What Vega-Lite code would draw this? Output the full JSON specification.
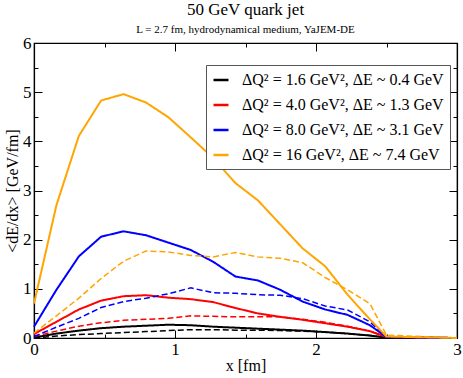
{
  "$schema": "https://vega.github.io/schema/vega-lite/v6.json",
  "width": 423,
  "height": 295,
  "autosize": {"type": "none"},
  "padding": {"left": 34, "top": 43, "right": 6, "bottom": 40},
  "background": "white",
  "title": {
    "text": "50 GeV quark jet",
    "subtitle": "L = 2.7 fm, hydrodynamical medium, YaJEM-DE",
    "font": "Liberation Serif, Times New Roman, serif",
    "fontSize": 17,
    "fontWeight": "normal",
    "subtitleFont": "Liberation Serif, Times New Roman, serif",
    "subtitleFontSize": 11,
    "color": "black",
    "subtitleColor": "black",
    "anchor": "middle",
    "offset": -2,
    "subtitlePadding": 5
  },
  "config": {
    "view": {"stroke": "black", "strokeWidth": 1.2},
    "axis": {
      "domainColor": "black",
      "domainWidth": 1.2,
      "tickColor": "black",
      "tickWidth": 1,
      "labelColor": "black",
      "titleColor": "black",
      "labelFont": "Liberation Serif, Times New Roman, serif",
      "labelFontSize": 17,
      "labelFlush": false,
      "titleFont": "Liberation Serif, Times New Roman, serif",
      "titleFontSize": 16,
      "titleFontWeight": "normal",
      "grid": false
    }
  },
  "data": {
    "values": [
      {"x": 0, "y": 0.01, "s": "a", "t": "solid"},
      {"x": 0.159, "y": 0.09, "s": "a", "t": "solid"},
      {"x": 0.318, "y": 0.15, "s": "a", "t": "solid"},
      {"x": 0.476, "y": 0.2, "s": "a", "t": "solid"},
      {"x": 0.635, "y": 0.23, "s": "a", "t": "solid"},
      {"x": 0.794, "y": 0.25, "s": "a", "t": "solid"},
      {"x": 0.953, "y": 0.27, "s": "a", "t": "solid"},
      {"x": 1.112, "y": 0.26, "s": "a", "t": "solid"},
      {"x": 1.271, "y": 0.23, "s": "a", "t": "solid"},
      {"x": 1.429, "y": 0.21, "s": "a", "t": "solid"},
      {"x": 1.588, "y": 0.19, "s": "a", "t": "solid"},
      {"x": 1.747, "y": 0.17, "s": "a", "t": "solid"},
      {"x": 1.906, "y": 0.15, "s": "a", "t": "solid"},
      {"x": 2.065, "y": 0.12, "s": "a", "t": "solid"},
      {"x": 2.224, "y": 0.09, "s": "a", "t": "solid"},
      {"x": 2.382, "y": 0.05, "s": "a", "t": "solid"},
      {"x": 2.5, "y": 0.01, "s": "a", "t": "solid"},
      {"x": 3.0, "y": 0, "s": "a", "t": "solid"},

      {"x": 0, "y": 0.0, "s": "a", "t": "dashed"},
      {"x": 0.159, "y": 0.04, "s": "a", "t": "dashed"},
      {"x": 0.318, "y": 0.07, "s": "a", "t": "dashed"},
      {"x": 0.476, "y": 0.09, "s": "a", "t": "dashed"},
      {"x": 0.635, "y": 0.11, "s": "a", "t": "dashed"},
      {"x": 0.794, "y": 0.13, "s": "a", "t": "dashed"},
      {"x": 0.953, "y": 0.15, "s": "a", "t": "dashed"},
      {"x": 1.112, "y": 0.17, "s": "a", "t": "dashed"},
      {"x": 1.271, "y": 0.17, "s": "a", "t": "dashed"},
      {"x": 1.429, "y": 0.16, "s": "a", "t": "dashed"},
      {"x": 1.588, "y": 0.16, "s": "a", "t": "dashed"},
      {"x": 1.747, "y": 0.15, "s": "a", "t": "dashed"},
      {"x": 1.906, "y": 0.14, "s": "a", "t": "dashed"},
      {"x": 2.065, "y": 0.12, "s": "a", "t": "dashed"},
      {"x": 2.224, "y": 0.09, "s": "a", "t": "dashed"},
      {"x": 2.382, "y": 0.05, "s": "a", "t": "dashed"},
      {"x": 2.5, "y": 0.01, "s": "a", "t": "dashed"},
      {"x": 3.0, "y": 0, "s": "a", "t": "dashed"},

      {"x": 0, "y": 0.08, "s": "b", "t": "solid"},
      {"x": 0.159, "y": 0.33, "s": "b", "t": "solid"},
      {"x": 0.318, "y": 0.58, "s": "b", "t": "solid"},
      {"x": 0.476, "y": 0.76, "s": "b", "t": "solid"},
      {"x": 0.635, "y": 0.85, "s": "b", "t": "solid"},
      {"x": 0.794, "y": 0.87, "s": "b", "t": "solid"},
      {"x": 0.953, "y": 0.82, "s": "b", "t": "solid"},
      {"x": 1.112, "y": 0.79, "s": "b", "t": "solid"},
      {"x": 1.271, "y": 0.73, "s": "b", "t": "solid"},
      {"x": 1.429, "y": 0.61, "s": "b", "t": "solid"},
      {"x": 1.588, "y": 0.5, "s": "b", "t": "solid"},
      {"x": 1.747, "y": 0.43, "s": "b", "t": "solid"},
      {"x": 1.906, "y": 0.37, "s": "b", "t": "solid"},
      {"x": 2.065, "y": 0.3, "s": "b", "t": "solid"},
      {"x": 2.224, "y": 0.23, "s": "b", "t": "solid"},
      {"x": 2.382, "y": 0.14, "s": "b", "t": "solid"},
      {"x": 2.5, "y": 0.02, "s": "b", "t": "solid"},
      {"x": 3.0, "y": 0, "s": "b", "t": "solid"},

      {"x": 0, "y": 0.03, "s": "b", "t": "dashed"},
      {"x": 0.159, "y": 0.14, "s": "b", "t": "dashed"},
      {"x": 0.318, "y": 0.24, "s": "b", "t": "dashed"},
      {"x": 0.476, "y": 0.31, "s": "b", "t": "dashed"},
      {"x": 0.635, "y": 0.36, "s": "b", "t": "dashed"},
      {"x": 0.794, "y": 0.38, "s": "b", "t": "dashed"},
      {"x": 0.953, "y": 0.4, "s": "b", "t": "dashed"},
      {"x": 1.112, "y": 0.45, "s": "b", "t": "dashed"},
      {"x": 1.271, "y": 0.44, "s": "b", "t": "dashed"},
      {"x": 1.429, "y": 0.43, "s": "b", "t": "dashed"},
      {"x": 1.588, "y": 0.43, "s": "b", "t": "dashed"},
      {"x": 1.747, "y": 0.43, "s": "b", "t": "dashed"},
      {"x": 1.906, "y": 0.38, "s": "b", "t": "dashed"},
      {"x": 2.065, "y": 0.32, "s": "b", "t": "dashed"},
      {"x": 2.224, "y": 0.24, "s": "b", "t": "dashed"},
      {"x": 2.382, "y": 0.14, "s": "b", "t": "dashed"},
      {"x": 2.5, "y": 0.02, "s": "b", "t": "dashed"},
      {"x": 3.0, "y": 0, "s": "b", "t": "dashed"},

      {"x": 0, "y": 0.23, "s": "c", "t": "solid"},
      {"x": 0.159, "y": 0.98, "s": "c", "t": "solid"},
      {"x": 0.318, "y": 1.66, "s": "c", "t": "solid"},
      {"x": 0.476, "y": 2.06, "s": "c", "t": "solid"},
      {"x": 0.635, "y": 2.17, "s": "c", "t": "solid"},
      {"x": 0.794, "y": 2.09, "s": "c", "t": "solid"},
      {"x": 0.953, "y": 1.94, "s": "c", "t": "solid"},
      {"x": 1.112, "y": 1.79, "s": "c", "t": "solid"},
      {"x": 1.271, "y": 1.55, "s": "c", "t": "solid"},
      {"x": 1.429, "y": 1.25, "s": "c", "t": "solid"},
      {"x": 1.588, "y": 1.17, "s": "c", "t": "solid"},
      {"x": 1.747, "y": 0.98, "s": "c", "t": "solid"},
      {"x": 1.906, "y": 0.74, "s": "c", "t": "solid"},
      {"x": 2.065, "y": 0.58, "s": "c", "t": "solid"},
      {"x": 2.224, "y": 0.47, "s": "c", "t": "solid"},
      {"x": 2.382, "y": 0.26, "s": "c", "t": "solid"},
      {"x": 2.5, "y": 0.02, "s": "c", "t": "solid"},
      {"x": 3.0, "y": 0, "s": "c", "t": "solid"},

      {"x": 0, "y": 0.03, "s": "c", "t": "dashed"},
      {"x": 0.159, "y": 0.22, "s": "c", "t": "dashed"},
      {"x": 0.318, "y": 0.4, "s": "c", "t": "dashed"},
      {"x": 0.476, "y": 0.62, "s": "c", "t": "dashed"},
      {"x": 0.635, "y": 0.74, "s": "c", "t": "dashed"},
      {"x": 0.794, "y": 0.81, "s": "c", "t": "dashed"},
      {"x": 0.953, "y": 0.9, "s": "c", "t": "dashed"},
      {"x": 1.112, "y": 1.02, "s": "c", "t": "dashed"},
      {"x": 1.271, "y": 0.92, "s": "c", "t": "dashed"},
      {"x": 1.429, "y": 0.91, "s": "c", "t": "dashed"},
      {"x": 1.588, "y": 0.88, "s": "c", "t": "dashed"},
      {"x": 1.747, "y": 0.87, "s": "c", "t": "dashed"},
      {"x": 1.906, "y": 0.8, "s": "c", "t": "dashed"},
      {"x": 2.065, "y": 0.65, "s": "c", "t": "dashed"},
      {"x": 2.224, "y": 0.57, "s": "c", "t": "dashed"},
      {"x": 2.382, "y": 0.33, "s": "c", "t": "dashed"},
      {"x": 2.5, "y": 0.02, "s": "c", "t": "dashed"},
      {"x": 3.0, "y": 0, "s": "c", "t": "dashed"},

      {"x": 0, "y": 0.7, "s": "d", "t": "solid"},
      {"x": 0.159, "y": 2.7, "s": "d", "t": "solid"},
      {"x": 0.318, "y": 4.11, "s": "d", "t": "solid"},
      {"x": 0.476, "y": 4.83, "s": "d", "t": "solid"},
      {"x": 0.635, "y": 4.96, "s": "d", "t": "solid"},
      {"x": 0.794, "y": 4.79, "s": "d", "t": "solid"},
      {"x": 0.953, "y": 4.49, "s": "d", "t": "solid"},
      {"x": 1.112, "y": 4.08, "s": "d", "t": "solid"},
      {"x": 1.271, "y": 3.66, "s": "d", "t": "solid"},
      {"x": 1.429, "y": 3.15, "s": "d", "t": "solid"},
      {"x": 1.588, "y": 2.8, "s": "d", "t": "solid"},
      {"x": 1.747, "y": 2.31, "s": "d", "t": "solid"},
      {"x": 1.906, "y": 1.82, "s": "d", "t": "solid"},
      {"x": 2.065, "y": 1.46, "s": "d", "t": "solid"},
      {"x": 2.224, "y": 0.88, "s": "d", "t": "solid"},
      {"x": 2.382, "y": 0.38, "s": "d", "t": "solid"},
      {"x": 2.5, "y": 0.03, "s": "d", "t": "solid"},
      {"x": 3.0, "y": 0, "s": "d", "t": "solid"},

      {"x": 0, "y": 0.1, "s": "d", "t": "dashed"},
      {"x": 0.159, "y": 0.45, "s": "d", "t": "dashed"},
      {"x": 0.318, "y": 0.81, "s": "d", "t": "dashed"},
      {"x": 0.476, "y": 1.21, "s": "d", "t": "dashed"},
      {"x": 0.635, "y": 1.56, "s": "d", "t": "dashed"},
      {"x": 0.794, "y": 1.77, "s": "d", "t": "dashed"},
      {"x": 0.953, "y": 1.75, "s": "d", "t": "dashed"},
      {"x": 1.112, "y": 1.68, "s": "d", "t": "dashed"},
      {"x": 1.271, "y": 1.65, "s": "d", "t": "dashed"},
      {"x": 1.429, "y": 1.74, "s": "d", "t": "dashed"},
      {"x": 1.588, "y": 1.65, "s": "d", "t": "dashed"},
      {"x": 1.747, "y": 1.62, "s": "d", "t": "dashed"},
      {"x": 1.906, "y": 1.53, "s": "d", "t": "dashed"},
      {"x": 2.065, "y": 1.23, "s": "d", "t": "dashed"},
      {"x": 2.224, "y": 0.98, "s": "d", "t": "dashed"},
      {"x": 2.382, "y": 0.7, "s": "d", "t": "dashed"},
      {"x": 2.5, "y": 0.06, "s": "d", "t": "dashed"},
      {"x": 3.0, "y": 0, "s": "d", "t": "dashed"}
    ]
  },
  "layer": [
    {
      "mark": {"type": "line", "strokeCap": "butt"},
      "encoding": {
        "x": {
          "field": "x", "type": "quantitative",
          "scale": {"domain": [0, 3], "nice": false, "zero": false},
          "axis": {
            "orient": "bottom",
            "title": "x [fm]",
            "values": [0, 0.5, 1, 1.5, 2, 2.5, 3],
            "labelExpr": "datum.value % 1 === 0 ? format(datum.value, 'd') : ''",
            "tickSize": {"condition": {"test": "datum.value % 1 === 0", "value": -8}, "value": -4},
            "labelPadding": 11,
            "titlePadding": 0
          }
        },
        "y": {
          "field": "y", "type": "quantitative",
          "scale": {"domain": [0, 6], "nice": false},
          "axis": {
            "orient": "left",
            "title": "<dE/dx> [GeV/fm]",
            "values": [0, 0.5, 1, 1.5, 2, 2.5, 3, 3.5, 4, 4.5, 5, 5.5, 6],
            "labelExpr": "datum.value % 1 === 0 ? format(datum.value, 'd') : ''",
            "tickSize": {"condition": {"test": "datum.value % 1 === 0", "value": -8}, "value": -4},
            "labelPadding": 11,
            "titlePadding": 2
          }
        },
        "color": {
          "field": "s", "type": "nominal",
          "scale": {"domain": ["a", "b", "c", "d"], "range": ["#000000", "#ff0000", "#0000ff", "#ffa500"]},
          "legend": {
            "title": null,
            "orient": "none",
            "legendX": 172,
            "legendY": 22,
            "labelExpr": "datum.value === 'a' ? 'ΔQ² = 1.6 GeV², ΔE ~ 0.4 GeV' : datum.value === 'b' ? 'ΔQ² = 4.0 GeV², ΔE ~ 1.3 GeV' : datum.value === 'c' ? 'ΔQ² = 8.0 GeV², ΔE ~ 3.1 GeV' : 'ΔQ² = 16 GeV²,  ΔE ~ 7.4 GeV'",
            "symbolType": "stroke",
            "symbolStrokeWidth": 2.5,
            "symbolSize": 225,
            "labelFont": "Liberation Serif, Times New Roman, serif",
            "labelFontSize": 16,
            "labelColor": "black",
            "labelLimit": 400,
            "labelOffset": 12,
            "rowPadding": 8,
            "padding": 6,
            "strokeColor": "#555555",
            "fillColor": "white"
          }
        },
        "strokeDash": {
          "field": "t", "type": "nominal",
          "scale": {"domain": ["solid", "dashed"], "range": [[1, 0], [6, 3]]},
          "legend": null
        },
        "strokeWidth": {
          "field": "t", "type": "nominal",
          "scale": {"domain": ["solid", "dashed"], "range": [2, 1.5]},
          "legend": null
        }
      }
    },
    {
      "mark": {"type": "point", "opacity": 0},
      "encoding": {
        "x": {
          "field": "x", "type": "quantitative",
          "axis": {
            "orient": "top",
            "title": null,
            "labels": false,
            "values": [0, 0.5, 1, 1.5, 2, 2.5, 3],
            "tickSize": {"condition": {"test": "datum.value % 1 === 0", "value": -8}, "value": -4}
          }
        },
        "y": {
          "field": "y", "type": "quantitative",
          "axis": {
            "orient": "right",
            "title": null,
            "labels": false,
            "values": [0, 0.5, 1, 1.5, 2, 2.5, 3, 3.5, 4, 4.5, 5, 5.5, 6],
            "tickSize": {"condition": {"test": "datum.value % 1 === 0", "value": -8}, "value": -4}
          }
        }
      }
    }
  ],
  "resolve": {"axis": {"x": "independent", "y": "independent"}}
}
